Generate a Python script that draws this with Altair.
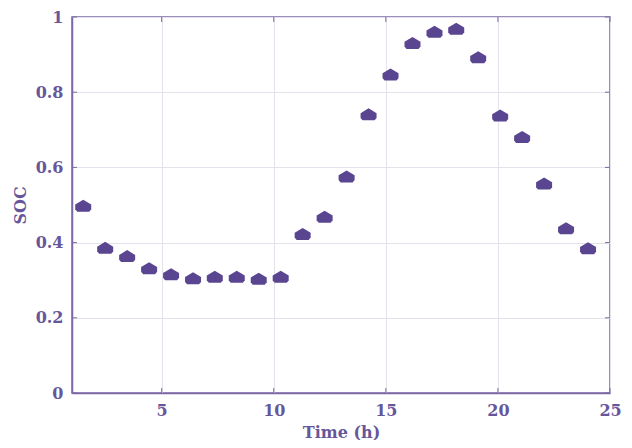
import altair as alt
import pandas as pd

# Data
time_h = [1.50, 2.48, 3.46, 4.44, 5.42, 6.40, 7.37, 8.35, 9.33, 10.31, 11.29, 12.27,
          13.25, 14.23, 15.21, 16.19, 17.17, 18.14, 19.12, 20.10, 21.08, 22.06, 23.04, 24.02]
soc = [0.497, 0.385, 0.363, 0.331, 0.315, 0.304, 0.308, 0.308, 0.303, 0.308, 0.422, 0.468,
       0.575, 0.740, 0.846, 0.930, 0.960, 0.968, 0.892, 0.737, 0.680, 0.556, 0.437, 0.384]

x_ticks = [5, 10, 15, 20, 25]
y_ticks = [0, 0.2, 0.4, 0.6, 0.8, 1]

PURPLE = "#5a4590"
AXIS = "#7b68a6"
TEXT = "#67579a"
GRID = "#e3e1ea"
FONT = "DejaVu Serif"

W, H = 538, 376

df = pd.DataFrame({"t": time_h, "soc": soc})

xscale = alt.Scale(domain=[1, 25], nice=False, zero=False)
yscale = alt.Scale(domain=[0, 1], nice=False)

marker = "M0,-0.8 L1,-0.2 L1,0.4 L0.75,0.7 L-0.75,0.7 L-1,0.4 L-1,-0.2 Z"

points = alt.Chart(df).mark_point(
    shape=marker, filled=True, size=256, color=PURPLE, opacity=1
).encode(
    x=alt.X("t:Q", scale=xscale, title="Time (h)",
            axis=alt.Axis(values=x_ticks, grid=True, gridColor=GRID, tickSize=0,
                          labelPadding=9, titlePadding=6, domainColor=AXIS,
                          domainWidth=1.5, labelFlush=False)),
    y=alt.Y("soc:Q", scale=yscale, title="SOC",
            axis=alt.Axis(values=y_ticks, grid=True, gridColor=GRID, tickSize=0,
                          labelPadding=9, titlePadding=7, domainColor=AXIS,
                          domainWidth=1.5, format="~g", labelFlush=False)),
)

# inward tick marks (MATLAB style) on all four sides
xt = pd.DataFrame({"x": x_ticks})
yt = pd.DataFrame({"y": y_ticks})
tick_bottom = alt.Chart(xt).mark_rule(color=AXIS, strokeWidth=1).encode(
    x=alt.X("x:Q", scale=xscale), y=alt.value(H), y2=alt.value(H - 5))
tick_top = alt.Chart(xt).mark_rule(color=AXIS, strokeWidth=1).encode(
    x=alt.X("x:Q", scale=xscale), y=alt.value(0), y2=alt.value(5))
tick_left = alt.Chart(yt).mark_rule(color=AXIS, strokeWidth=1).encode(
    y=alt.Y("y:Q", scale=yscale), x=alt.value(0), x2=alt.value(5))
tick_right = alt.Chart(yt).mark_rule(color=AXIS, strokeWidth=1).encode(
    y=alt.Y("y:Q", scale=yscale), x=alt.value(W), x2=alt.value(W - 5))

chart = alt.layer(tick_bottom, tick_top, tick_left, tick_right, points).properties(
    width=W, height=H,
    autosize=alt.AutoSizeParams(type="none"),
    padding={"left": 64, "top": 9, "right": 14, "bottom": 47},
).configure_view(
    stroke=AXIS, strokeWidth=1.5
).configure_axis(
    labelFont=FONT, titleFont=FONT, labelFontSize=16, titleFontSize=16,
    labelFontWeight="bold", titleFontWeight="bold",
    labelColor=TEXT, titleColor=TEXT,
)

chart.save("out.html", embed_options={"renderer": "svg", "actions": False})
